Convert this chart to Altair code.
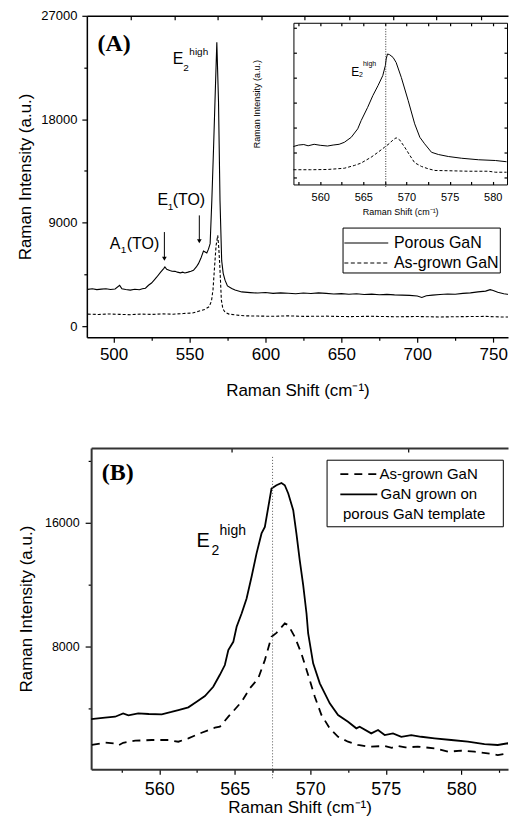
import altair as alt
import pandas as pd

SANS = "Liberation Sans"
SERIF = "Liberation Serif"

# ---------------- data ----------------
# Panel A, full spectra: (Raman shift cm-1, intensity a.u.)
a_porous = [(483, 3200), (486, 3250), (489, 3180), (492, 3220), (495, 3260), (498, 3190), (501, 3230),
            (504, 3550), (505.5, 3250), (508, 3190), (511, 3140), (514, 3210), (517, 3170), (519, 3260),
            (521, 3300), (523, 3560), (525, 3750), (527, 4050), (528.5, 4280), (531, 4700), (533, 5010),
            (533.8, 5150), (535, 4950), (537, 4850), (538.5, 4780), (540.5, 4770), (542, 4700), (544, 4640),
            (545.5, 4700), (547, 4630), (549, 4700), (551, 4780), (552.6, 4860), (554.5, 5150), (555.9, 5440),
            (557.5, 5900), (559.2, 6540), (560.3, 6450), (561.4, 6360), (562.5, 6700), (563.6, 7180),
            (564.7, 10900), (565.8, 15300), (566.8, 19600), (568.0, 24700), (569.1, 19600), (570.1, 10900),
            (571.2, 5700), (572.2, 4600), (573.4, 4000), (575, 3500), (577.8, 3270), (580, 3150), (584.4, 2980),
            (590, 2920), (595, 2880), (600, 2930), (605, 2850), (610, 2900), (615, 2870), (620, 2820),
            (625, 2880), (630, 2840), (635, 2900), (640, 2850), (645, 2800), (650, 2830), (655, 2780),
            (660, 2820), (665, 2760), (670, 2790), (675, 2740), (680, 2770), (685, 2720), (690, 2700),
            (695, 2680), (700, 2620), (703, 2500), (706, 2640), (710, 2700), (715, 2750), (720, 2800),
            (725, 2780), (730, 2850), (735, 2900), (740, 2980), (745, 3050), (748, 3180), (750, 3100),
            (753, 2950), (757, 2820), (761, 2750), (764, 2700), (767, 2680)]
a_asgrown = [(483, 1050), (490, 1020), (497, 1060), (504, 1030), (511, 1000), (518, 1050), (525, 1020),
             (532, 1070), (539, 1040), (546, 1100), (552, 1150), (556, 1300), (560, 1450), (563, 1700),
             (564.5, 2200), (565.5, 3200), (566.5, 5150), (567.5, 7000), (568.6, 7900), (569.3, 6800),
             (570, 5150), (571, 2260), (572, 1500), (573.5, 1200), (576, 1050), (580, 980), (586, 900),
             (595, 880), (605, 860), (615, 900), (625, 850), (640, 870), (655, 830), (670, 860), (685, 820),
             (700, 840), (715, 800), (730, 830), (745, 850), (755, 800), (767, 800)]

# Panel A inset (arbitrary units)
inset_porous = [(556.9, 1.24), (557.5, 1.30), (558.1, 1.32), (558.6, 1.27), (559.3, 1.33), (560.0, 1.29),
                (560.85, 1.26), (561.5, 1.30), (562.2, 1.33), (562.8, 1.41), (563.6, 1.61), (564.35, 1.95),
                (564.75, 2.28), (565.5, 2.81), (566.1, 3.28), (566.7, 3.68), (567.25, 4.08), (567.55, 4.48),
                (567.65, 4.75), (567.8, 4.95), (568.05, 4.92), (568.45, 4.81), (568.8, 4.61), (569.4, 4.01),
                (570.2, 3.08), (570.95, 2.15), (571.55, 1.61), (572.1, 1.35), (572.9, 1.01), (573.7, 0.92),
                (574.85, 0.84), (576.4, 0.77), (578.35, 0.71), (580.3, 0.68), (581.6, 0.63)]
inset_asgrown = [(556.9, 0.31), (558.9, 0.31), (560.85, 0.32), (562.8, 0.37), (563.95, 0.48), (564.7, 0.57),
                 (565.9, 0.81), (566.7, 1.01), (567.45, 1.21), (568.05, 1.37), (568.45, 1.51), (568.8, 1.59),
                 (569.2, 1.51), (569.8, 1.21), (570.4, 0.88), (570.95, 0.59), (571.75, 0.44), (572.5, 0.35),
                 (573.3, 0.28), (574.85, 0.27), (577.2, 0.25), (579.5, 0.25), (580.3, 0.21), (581.6, 0.21)]

# Panel B
b_asgrown = [(555.53, 1660), (556.4, 1810), (557.0, 1760), (557.29, 1640), (557.6, 1800), (558.4, 1935),
             (559.5, 1980), (560.6, 1980), (561.26, 1870), (561.92, 2090), (562.8, 2450), (563.68, 2775),
             (564.01, 2840), (564.57, 3485), (565.45, 4450), (566.0, 5320), (566.55, 5960), (566.99, 7140),
             (567.43, 8645), (567.76, 8900), (568.31, 9510), (568.54, 9400), (568.97, 8645), (569.41, 7575),
             (569.86, 6175), (570.3, 4775), (570.74, 3595), (571.29, 2735), (571.84, 2190), (572.5, 1870),
             (573.16, 1660), (573.82, 1550), (574.93, 1590), (575.4, 1480), (575.81, 1600), (576.3, 1500),
             (577.13, 1550), (578.23, 1445), (579.12, 1225), (580.0, 1290), (580.88, 1225), (581.76, 1120),
             (582.42, 1010), (583.09, 1120), (583.75, 1120)]
b_porous = [(555.48, 3335), (556.4, 3420), (557.07, 3485), (557.6, 3700), (557.95, 3575), (558.6, 3700),
            (559.3, 3660), (560.16, 3640), (560.8, 3790), (561.26, 3915), (561.92, 4090), (562.47, 4450),
            (563.02, 4820), (563.57, 5420), (564.0, 6175), (564.34, 6820), (564.57, 7790), (564.9, 8320),
            (565.12, 9290), (565.45, 10150), (565.78, 11120), (566.11, 12520), (566.44, 14030), (566.77, 15320),
            (566.99, 15740), (567.43, 18220), (567.76, 18430), (568.09, 18580), (568.31, 18430), (568.54, 17900),
            (568.87, 16820), (569.08, 15320), (569.3, 13590), (569.53, 11980), (569.75, 10150), (569.86, 8860),
            (570.19, 6930), (570.63, 5640), (571.29, 4350), (571.84, 3590), (572.5, 3160), (573.05, 2735),
            (573.27, 2840), (574.04, 2410), (574.49, 2625), (574.93, 2300), (575.48, 2410), (576.03, 2190),
            (576.69, 2300), (577.35, 2190), (578.23, 2090), (579.34, 1980), (580.44, 1870), (581.54, 1720),
            (582.42, 1660), (583.09, 1770), (583.75, 1660)]

# axes
a_x_domain = [482.4, 759.76]
a_y_domain = [-955, 27000]
a_x_ticks = [500, 525, 550, 575, 600, 625, 650, 675, 700, 725, 750]
a_y_ticks = [0, 4500, 9000, 13500, 18000, 22500, 27000]
a_top_ticks = [511.4, 540.3, 568.6, 597.6, 625.9, 655.5, 684.4, 712.7, 742.3]

inset_x_domain = [556.9, 581.65]
inset_y_domain = [-0.28, 6.2]
inset_x_ticks = [557.5, 560, 562.5, 565, 567.5, 570, 572.5, 575, 577.5, 580]
inset_y_ticks = [0, 1, 2, 3, 4, 5, 6]
inset_marker = [567.6]

b_x_domain = [555.48, 583.1]
b_y_domain = [90, 20840]
b_x_ticks = [557.5, 560, 562.5, 565, 567.5, 570, 572.5, 575, 577.5, 580, 582.5]
b_y_ticks = [4000, 8000, 12000, 16000, 20000]
b_top_ticks = [564.8, 576.5]
b_marker = [567.5]

POROUS_A = "Porous GaN"
ASGROWN_A = "As-grown GaN"
ASGROWN_B = "As-grown GaN"


def frame(pairs):
    return pd.DataFrame({"shift": [p[0] for p in pairs],
                         "intensity": [p[1] for p in pairs]})


one = pd.DataFrame({"k": [0]})


def txt(s, x, y, size, font=SANS, weight="normal", align="left", baseline="alphabetic"):
    return alt.Chart(one).mark_text(text=s, font=font, fontSize=size, fontWeight=weight,
                                    align=align, baseline=baseline, color="black").encode(
        x=alt.value(x), y=alt.value(y))


def seg(x1, y1, x2, y2, width=1.0, dash=None, color="black"):
    kw = dict(color=color, strokeWidth=width)
    if dash is not None:
        kw["strokeDash"] = dash
    return alt.Chart(one).mark_rule(**kw).encode(
        x=alt.value(x1), y=alt.value(y1), x2=alt.value(x2), y2=alt.value(y2))


def arrow_head(x, y):
    return alt.Chart(one).mark_point(shape="triangle-down", filled=True, size=22, color="black",
                                     opacity=1).encode(x=alt.value(x), y=alt.value(y))


def box(x1, y1, x2, y2):
    return alt.Chart(one).mark_rect(fillOpacity=0, stroke="black", strokeWidth=1).encode(
        x=alt.value(x1), y=alt.value(y1), x2=alt.value(x2), y2=alt.value(y2))


def cond_size(test, major, minor):
    return {"condition": {"test": test, "value": major}, "value": minor}


def line(df, xs, ys, width, dash=None, xaxis=None, yaxis=None, clip=True):
    kw = dict(color="black", strokeWidth=width, clip=clip)
    if dash is not None:
        kw["strokeDash"] = dash
    return alt.Chart(df).mark_line(**kw).encode(
        x=alt.X("shift:Q", scale=xs, axis=xaxis),
        y=alt.Y("intensity:Q", scale=ys, axis=yaxis))


W, H = 422, 322

# ================= Panel A =================
a_xs = alt.Scale(domain=a_x_domain, nice=False, zero=False)
a_ys = alt.Scale(domain=a_y_domain, nice=False, zero=False)

a_xaxis = alt.Axis(
    orient="bottom", values=a_x_ticks, format="d",
    labelExpr="datum.value % 50 === 0 ? datum.label : ''",
    tickSize=cond_size("datum.value % 50 === 0", 5, 3),
    labelFontSize=17, labelPadding=4, labelOverlap=False, labelFlush=False,
    title="Raman Shift (cm⁻¹)", titleFontSize=17, titlePadding=20)
a_yaxis = alt.Axis(
    orient="left", values=a_y_ticks, format="d",
    labelExpr="datum.value % 9000 === 0 ? datum.label : ''",
    tickSize=cond_size("datum.value % 9000 === 0", 5, 3),
    labelFontSize=13, labelPadding=5, labelOverlap=False, labelFlush=False,
    title="Raman Intensity (a.u.)", titleFontSize=17, titlePadding=6)

a_line_p = line(frame(a_porous), a_xs, a_ys, 1.1, xaxis=a_xaxis, yaxis=a_yaxis)
a_line_g = line(frame(a_asgrown), a_xs, a_ys, 1.1, dash=[3, 2])

a_top = alt.Chart(pd.DataFrame({"shift": a_top_ticks})).mark_point(opacity=0).encode(
    x=alt.X("shift:Q", scale=a_xs, axis=alt.Axis(orient="top", values=a_top_ticks, labels=False,
                                                 title=None, tickSize={"expr": "-4"})))

a_ann = [
    txt("(A)", 10.7, 35, 24, font=SERIF, weight="bold"),
    txt("E", 86, 48.3, 16), txt("2", 96.7, 55.7, 10), txt("high", 102.7, 39, 10),
    txt("E", 70.7, 190, 16), txt("1", 81, 194.5, 10), txt("(TO)", 86, 190, 16),
    seg(112.7, 200, 112.7, 226), arrow_head(112.7, 226),
    txt("A", 23, 233.3, 16), txt("1", 34, 237.5, 10), txt("(TO)", 40, 233.3, 16),
    seg(77.7, 216.7, 77.7, 243.5), arrow_head(77.7, 243.5),
    # legend
    box(256.7, 212.7, 414.3, 257.7),
    seg(258, 227.7, 302, 227.7, width=1.1),
    txt(POROUS_A, 307.7, 227.7, 16, baseline="middle"),
    seg(258, 247.7, 302, 247.7, width=1.1, dash=[4, 2.5]),
    txt(ASGROWN_A, 307.7, 247.7, 16, baseline="middle"),
]

main_group = alt.layer(a_line_p, a_line_g, a_top, *a_ann).resolve_axis(x="independent", y="independent")

# ---- inset ----
i_xs = alt.Scale(domain=inset_x_domain, range=[207, 421], nice=False, zero=False)
i_ys = alt.Scale(domain=inset_y_domain, range=[169, 7], nice=False, zero=False)

i_xaxis = alt.Axis(
    orient="bottom", offset=-153, values=inset_x_ticks, format="d",
    labelExpr="datum.value % 5 === 0 ? datum.label : ''",
    tickSize={"expr": "-3"}, domainWidth=1,
    labelFontSize=11, labelPadding=10, labelOverlap=False, labelFlush=False,
    title="Raman Shift (cm⁻¹)", titleFontSize=9, titlePadding=5)
i_yaxis = alt.Axis(
    orient="left", offset=-207, values=inset_y_ticks, labels=False,
    tickSize={"expr": "-3"}, domainWidth=1, minExtent=0,
    title="Raman Intensity (a.u.)", titleFontSize=9, titlePadding=31)

i_line_p = line(frame(inset_porous), i_xs, i_ys, 1.0, xaxis=i_xaxis, yaxis=i_yaxis, clip=False)
i_line_g = line(frame(inset_asgrown), i_xs, i_ys, 1.0, dash=[3, 2], clip=False)

i_frame = alt.Chart(pd.DataFrame({"shift": [570.0], "intensity": [3.0]})).mark_point(opacity=0).encode(
    x=alt.X("shift:Q", scale=i_xs, axis=alt.Axis(orient="top", offset=-7, values=inset_x_ticks,
                                                labels=False, title=None, tickSize={"expr": "-3"},
                                                domainWidth=1)),
    y=alt.Y("intensity:Q", scale=i_ys, axis=alt.Axis(orient="right", offset=-1, values=inset_y_ticks,
                                                    labels=False, title=None, tickSize={"expr": "-3"},
                                                    domainWidth=1, minExtent=0)),
)

i_rule = alt.Chart(pd.DataFrame({"shift": inset_marker})).mark_rule(
    color="#333", strokeWidth=1, strokeDash=[1, 1.5]).encode(
    x=alt.X("shift:Q", scale=i_xs, axis=None), y=alt.value(13), y2=alt.value(172))

i_ann = [txt("E", 265, 60, 12), txt("2", 272.7, 61.5, 7), txt("high", 276.7, 50.7, 7)]

inset_group = alt.layer(i_line_p, i_line_g, i_frame, i_rule, *i_ann).resolve_axis(
    x="independent", y="independent")

panelA = alt.layer(main_group, inset_group).resolve_scale(
    x="independent", y="independent").properties(width=W, height=H)

# ================= Panel B =================
b_xs = alt.Scale(domain=b_x_domain, range=[4.3, W], nice=False, zero=False)
b_ys = alt.Scale(domain=b_y_domain, nice=False, zero=False)

b_xaxis = alt.Axis(
    orient="bottom", values=b_x_ticks, format="d",
    labelExpr="datum.value % 5 === 0 ? datum.label : ''",
    tickSize=cond_size("datum.value % 5 === 0", 5, 3),
    labelFontSize=18, labelPadding=6, labelOverlap=False, labelFlush=False,
    domainColor="#333", domainWidth=2,
    title="Raman Shift (cm⁻¹)", titleFontSize=17, titlePadding=1)
b_yaxis = alt.Axis(
    orient="left", offset=-4.3, values=b_y_ticks, format="d",
    labelExpr="datum.value % 8000 === 0 ? datum.label : ''",
    tickSize=cond_size("datum.value % 8000 === 0", 6, 3),
    labelFontSize=12.5, labelPadding=6, labelOverlap=False, labelFlush=False,
    domainColor="#333", domainWidth=2,
    title="Raman Intensity (a.u.)", titleFontSize=17, titlePadding=9)

b_line_g = line(frame(b_asgrown), b_xs, b_ys, 1.8, dash=[8, 6], xaxis=b_xaxis, yaxis=b_yaxis)
b_line_p = line(frame(b_porous), b_xs, b_ys, 1.8)

b_top = alt.Chart(pd.DataFrame({"shift": b_top_ticks})).mark_point(opacity=0).encode(
    x=alt.X("shift:Q", scale=b_xs, axis=alt.Axis(orient="top", values=b_top_ticks, labels=False,
                                                 title=None, tickSize={"expr": "-4"},
                                                 domainColor="#333", domainWidth=2)))

b_rule = alt.Chart(pd.DataFrame({"shift": b_marker})).mark_rule(
    color="#555", strokeWidth=1, strokeDash=[1, 2]).encode(
    x=alt.X("shift:Q", scale=b_xs, axis=None), y=alt.value(9), y2=alt.value(332))

b_ann = [
    txt("(B)", 15, 32.3, 24, font=SERIF, weight="bold"),
    txt("E", 110, 99, 20), txt("2", 125, 107.3, 14), txt("high", 133, 87.3, 14),
    box(240.7, 12.3, 417.3, 79),
    seg(254, 26.3, 291.7, 26.3, width=1.8, dash=[8, 6]),
    txt(ASGROWN_B, 293.3, 26.3, 15, baseline="middle"),
    seg(254, 46.6, 291, 46.6, width=1.8),
    txt("GaN grown on", 294.3, 46.6, 15, baseline="middle"),
    txt("porous GaN template", 256.7, 66.6, 15, baseline="middle"),
]

panelB = alt.layer(b_line_g, b_line_p, b_top, b_rule, *b_ann).resolve_axis(
    x="independent", y="independent").properties(width=W, height=H)

chart = alt.vconcat(panelA, panelB, spacing=47).properties(
    padding={"left": 8, "top": 0, "right": 0, "bottom": 0}
).configure_view(stroke="transparent").configure_axis(
    grid=False, domainColor="black", tickColor="black", labelColor="black", titleColor="black",
    domainWidth=1.5, tickWidth=1.2, labelFont=SANS, titleFont=SANS, titleFontWeight="normal"
)

chart.save("out.html", embed_options={"renderer": "svg", "actions": False})
